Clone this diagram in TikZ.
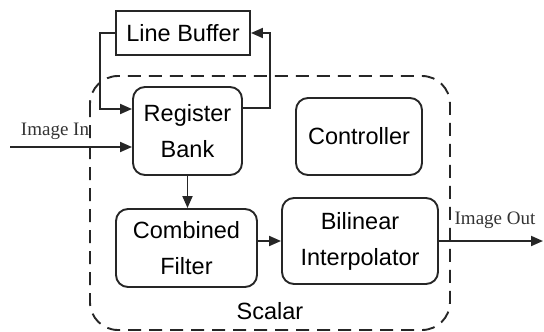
\documentclass[tikz,border=0pt]{standalone}
\usepackage{fontspec}
\setmainfont{Liberation Sans}
\newfontfamily\serifface{Liberation Serif}
\usetikzlibrary{arrows.meta}
\begin{document}
\begin{tikzpicture}[x=1pt,y=-1pt,
  blk/.style={draw=black!85, line width=1.9pt, rounded corners=12pt, align=center, inner sep=0pt,
    font=\fontsize{23.5}{36}\selectfont},
  plain/.style={draw=black!85, line width=1.9pt, align=center, inner sep=0pt, font=\fontsize{23.5}{28}\selectfont},
  arr/.style={draw=black!85, line width=1.9pt, -{Triangle[length=12pt,width=10pt]}},
  lbl/.style={font=\serifface\fontsize{19}{22}\selectfont, inner sep=0pt, text=black!80}]
\useasboundingbox (0,0) rectangle (544,332);
\draw[black!85, line width=1.9pt, dash pattern=on 13pt off 8pt, rounded corners=28pt] (90,76) rectangle (450,330);
\node[plain, minimum width=134pt, minimum height=44pt] (LB) at (183,33) {Line Buffer};
\node[blk, minimum width=109pt, minimum height=88pt] (RB) at (187.5,131) {Register\\Bank};
\node[blk, minimum width=126pt, minimum height=77pt] (CT) at (359,136.5) {Controller};
\node[blk, minimum width=141pt, minimum height=78pt] (CF) at (186.5,248) {Combined\\Filter};
\node[blk, minimum width=156pt, minimum height=86pt] (BI) at (360,241) {Bilinear\\Interpolator};
\node[font=\fontsize{23.5}{28}\selectfont, inner sep=0pt] (SC) at (270,311) {Scalar};
\node[lbl] (IN) at (55,131) {Image In};
\node[lbl] (OUTL) at (495,220) {Image Out};
\coordinate (in) at (10,147);
\coordinate (out) at (543,241);
\draw[arr] ([yshift=23pt]RB.east) -| ([xshift=19pt]LB.east) -- (LB.east);
\draw[arr] (LB.west) -- ++(-15,0) |- ([yshift=22pt]RB.west);
\draw[arr] (in) -- ([yshift=-16pt]RB.west);
\draw[arr] (RB.south) -- (RB.south |- CF.north);
\draw[arr] (CF.east |- BI.west) -- (BI.west);
\draw[arr] (BI.east) -- (out);
\end{tikzpicture}
\end{document}
